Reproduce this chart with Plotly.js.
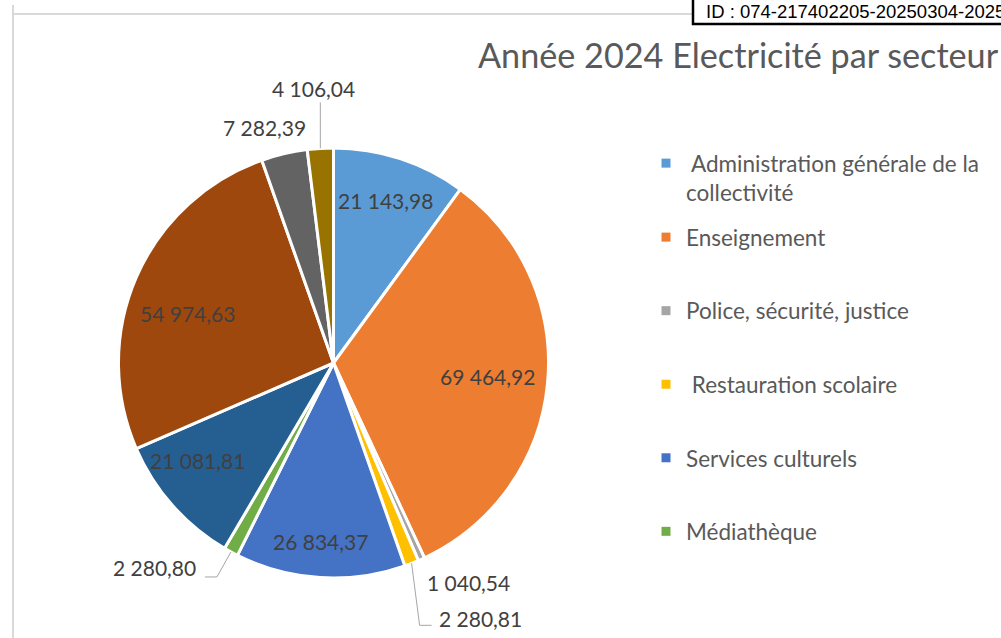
<!DOCTYPE html>
<html><head><meta charset="utf-8">
<script src="https://cdn.plot.ly/plotly-3.0.1.min.js"></script>
<style>html,body{margin:0;padding:0;background:#fff;overflow:hidden}</style>
</head><body><div id="chart" style="width:1001px;height:638px"></div>
<script>
// ---- data ----
const sectorNames = ["Administration générale de la collectivité", "Enseignement", "Police, sécurité, justice", "Restauration scolaire", "Services culturels", "Médiathèque", "Secteur 7", "Secteur 8", "Secteur 9", "Secteur 10"];
const legendLabels = ["\u00A0Administration générale de la<br>collectivité", "Enseignement", "Police, sécurité, justice", "\u00A0Restauration scolaire", "Services culturels", "Médiathèque"];
const consumption = [21143.98, 69464.92, 1040.54, 2280.81, 26834.37, 2280.80, 21081.81, 54974.63, 7282.39, 4106.04];
const sliceColors = ["#5B9BD5", "#ED7D31", "#A5A5A5", "#FFC000", "#4472C4", "#70AD47", "#255E91", "#9E480E", "#636363", "#997300"];
const chartTitle = "Année 2024 Electricité par secteur";
const idText = "ID : 074-217402205-20250304-2025";

// ---- geometry / styling ----
const W = 1001, H = 638, CX = 333.5, CY = 363, R = 215;
const px = x => x / W, py = y => 1 - y / H;
const fmt = v => { const [i, d] = v.toFixed(2).split('.'); return i.replace(/\B(?=(\d{3})+(?!\d))/g, ' ') + ',' + d; };

const total = consumption.reduce((a, b) => a + b, 0);
let cum = 0;
const midAngles = consumption.map(v => { const m = (cum + v / 2) / total * 2 * Math.PI; cum += v; return m; });
const polar = (a, r) => [CX + r * Math.sin(a), CY - r * Math.cos(a)];

// inside labels: index -> pixel nudge
const insideLabels = {0: [0, -3], 1: [-13, -3], 4: [-2, 11], 6: [-10, -14], 7: [8, 17]};
// outside labels: index -> text offset from slice edge, anchor, leader path offsets
const outsideLabels = {
  2: {off: [4, 23], anchor: 'left', leader: null},
  3: {off: [25, 55], anchor: 'left', leader: [[0, 0], [8, 62], [20, 62]]},
  5: {off: [-33, 16], anchor: 'right', leader: [[0, 0], [-14, 25], [-26, 25]]},
  8: {off: [24, -26], anchor: 'right', leader: null},
  9: {off: [-7, -60], anchor: 'center', leader: [[0, 0], [0, -46]]}
};

const labelFont = {family: 'Lato', size: 21, color: '#404040'};
const annotations = [];
const shapes = [];

Object.keys(insideLabels).forEach(k => {
  const i = +k; const [x, y] = polar(midAngles[i], 0.78 * R);
  annotations.push({xref: 'paper', yref: 'paper', x: px(x + insideLabels[k][0]), y: py(y + insideLabels[k][1]),
    text: fmt(consumption[i]), showarrow: false, font: labelFont, xanchor: 'center', yanchor: 'middle'});
});
Object.keys(outsideLabels).forEach(k => {
  const i = +k, cfg = outsideLabels[k]; const [ex, ey] = polar(midAngles[i], R);
  annotations.push({xref: 'paper', yref: 'paper', x: px(ex + cfg.off[0]), y: py(ey + cfg.off[1]),
    text: fmt(consumption[i]), showarrow: false, font: labelFont, xanchor: cfg.anchor, yanchor: 'middle'});
  if (cfg.leader) {
    const p = cfg.leader.map((d, j) => (j ? 'L' : 'M') + px(ex + d[0]) + ',' + py(ey + d[1])).join(' ');
    shapes.push({type: 'path', xref: 'paper', yref: 'paper', path: p, line: {color: '#A6A6A6', width: 1}});
  }
});

// chart frame and ID stamp
shapes.push({type: 'line', xref: 'paper', yref: 'paper', x0: px(13), x1: px(1001), y0: py(14), y1: py(14), line: {color: '#D9D9D9', width: 2}});
shapes.push({type: 'line', xref: 'paper', yref: 'paper', x0: px(13), x1: px(13), y0: py(5), y1: py(638), line: {color: '#D9D9D9', width: 2}});
shapes.push({type: 'rect', xref: 'paper', yref: 'paper', x0: px(693), x1: px(1010), y0: py(-5), y1: py(24), line: {color: '#000', width: 2.5}, fillcolor: '#fff'});
annotations.push({xref: 'paper', yref: 'paper', x: px(704), y: py(11), xanchor: 'left', yanchor: 'middle', showarrow: false,
  text: idText, font: {family: 'Liberation Sans, Arial', size: 18.5, color: '#000'}});

const traces = [{
  type: 'pie', labels: sectorNames, values: consumption, sort: false, direction: 'clockwise', rotation: 0,
  marker: {colors: sliceColors, line: {color: '#fff', width: 3}}, textinfo: 'none', showlegend: false, hoverinfo: 'label+value',
  domain: {x: [px(CX - R), px(CX + R)], y: [py(CY + R), py(CY - R)]}
}];
legendLabels.forEach((name, i) => {
  traces.push({type: 'scatter', mode: 'markers', x: [null], y: [null], name: name, legendgroup: 'g' + i,
    legend: i === 0 ? 'legend' : 'legend2', marker: {symbol: 'square', size: 9, color: sliceColors[i]}, hoverinfo: 'skip'});
});

const legendFont = {family: 'Lato', size: 22.5, color: '#595959'};
const layout = {
  width: W, height: H, margin: {l: 0, r: 0, t: 0, b: 0}, paper_bgcolor: '#fff', plot_bgcolor: '#fff',
  showlegend: true,
  title: {text: chartTitle, font: {family: 'Lato', size: 34.2, color: '#595959'}, x: px(478), xanchor: 'left', xref: 'paper', y: py(56), yanchor: 'middle', yref: 'container'},
  xaxis: {visible: false}, yaxis: {visible: false},
  legend: {x: px(646), xanchor: 'left', y: py(142), yanchor: 'top', font: legendFont, bgcolor: 'rgba(0,0,0,0)', valign: 'top'},
  legend2: {x: px(646), xanchor: 'left', y: py(216), yanchor: 'top', font: legendFont, bgcolor: 'rgba(0,0,0,0)', traceorder: 'grouped', tracegroupgap: 41.3},
  annotations: annotations, shapes: shapes
};
Plotly.newPlot('chart', traces, layout, {displayModeBar: false, staticPlot: true});
</script></body></html>
